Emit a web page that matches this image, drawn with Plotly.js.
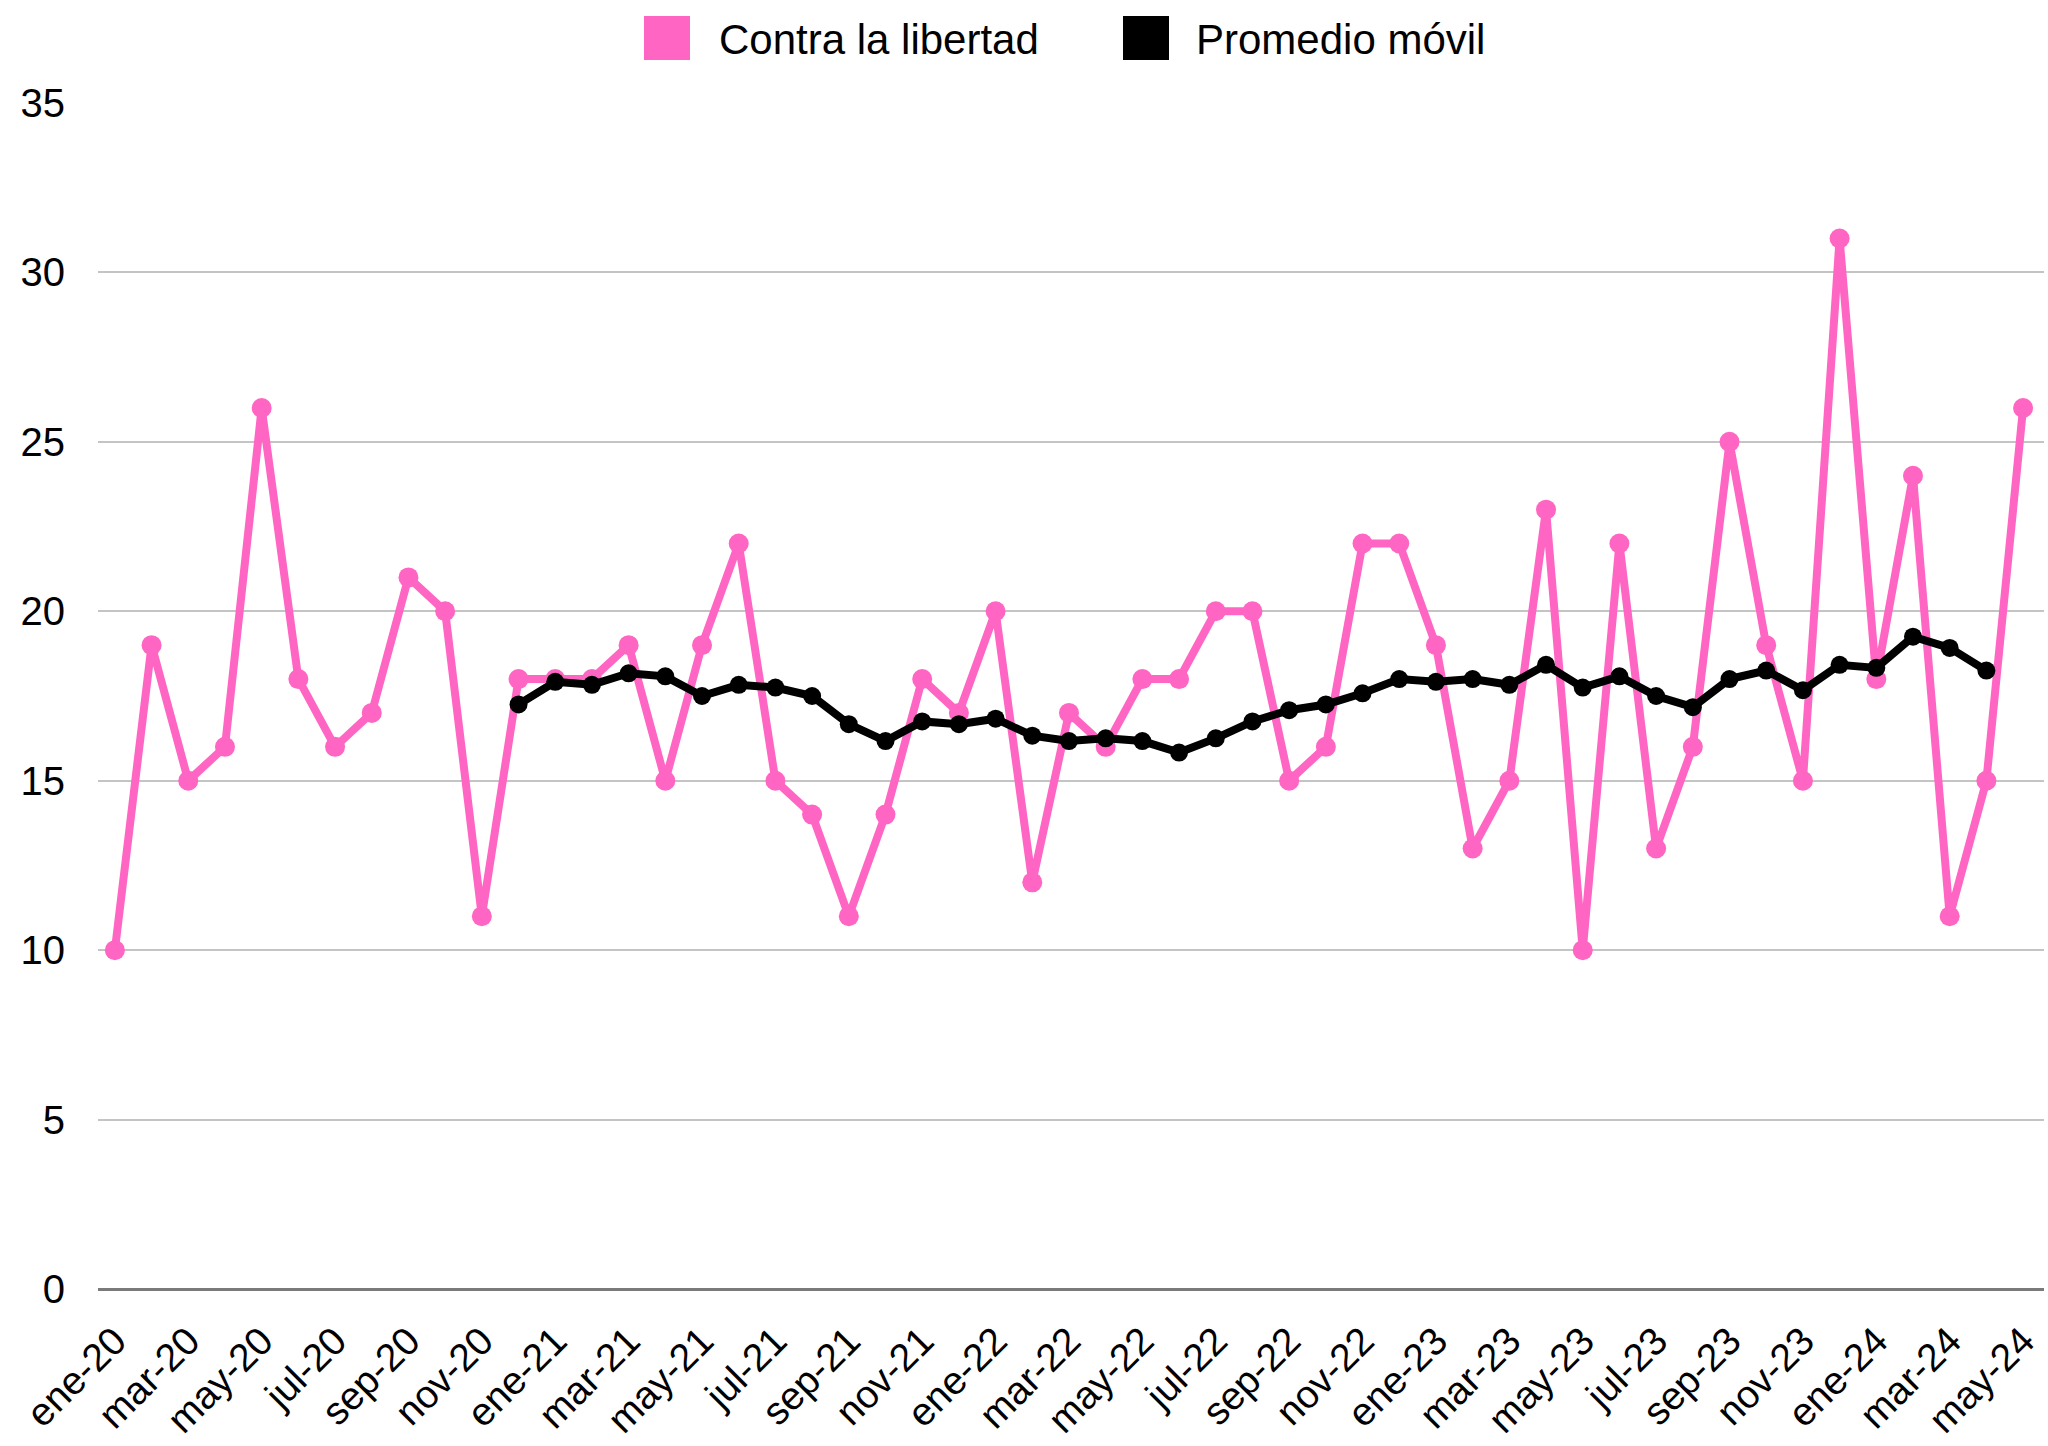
<!DOCTYPE html>
<html>
<head>
<meta charset="utf-8">
<script src="https://cdn.plot.ly/plotly-3.0.1.min.js"></script>
<style>html,body{margin:0;padding:0;background:#fff;}#chart{width:2048px;height:1446px;}</style>
</head>
<body>
<div id="chart"></div>
<script>
const categories = [
  "ene-20","feb-20","mar-20","abr-20","may-20","jun-20","jul-20","ago-20","sep-20","oct-20","nov-20","dic-20",
  "ene-21","feb-21","mar-21","abr-21","may-21","jun-21","jul-21","ago-21","sep-21","oct-21","nov-21","dic-21",
  "ene-22","feb-22","mar-22","abr-22","may-22","jun-22","jul-22","ago-22","sep-22","oct-22","nov-22","dic-22",
  "ene-23","feb-23","mar-23","abr-23","may-23","jun-23","jul-23","ago-23","sep-23","oct-23","nov-23","dic-23",
  "ene-24","feb-24","mar-24","abr-24","may-24"
];
const contraLaLibertad = [
  10,19,15,16,26,18,16,17,21,20,11,18,
  18,18,19,15,19,22,15,14,11,14,18,17,
  20,12,17,16,18,18,20,20,15,16,22,22,
  19,13,15,23,10,22,13,16,25,19,15,31,
  18,24,11,15,26
];
const promedioMovil = [
  null,null,null,null,null,null,null,null,null,null,null,17.25,
  17.92,17.83,18.17,18.08,17.5,17.83,17.75,17.5,16.67,16.17,16.75,16.67,
  16.83,16.33,16.17,16.25,16.17,15.83,16.25,16.75,17.08,17.25,17.58,18.0,
  17.92,18.0,17.83,18.42,17.75,18.08,17.5,17.17,18.0,18.25,17.67,18.42,
  18.33,19.25,18.92,18.25,null
];
const xTickLabels = ["ene-20","mar-20","may-20","jul-20","sep-20","nov-20",
  "ene-21","mar-21","may-21","jul-21","sep-21","nov-21",
  "ene-22","mar-22","may-22","jul-22","sep-22","nov-22",
  "ene-23","mar-23","may-23","jul-23","sep-23","nov-23",
  "ene-24","mar-24","may-24"];
const yTickValues = [0,5,10,15,20,25,30,35];
const seriesNames = ["Contra la libertad","Promedio móvil"];
const seriesColors = ["#FF66C4","#000000"];

const FONT = "Liberation Sans, Arial, sans-serif";

const traces = [
  {
    type: "scatter", mode: "lines+markers", name: seriesNames[0],
    x: categories, y: contraLaLibertad,
    line: {color: seriesColors[0], width: 8},
    marker: {color: seriesColors[0], size: 20},
    showlegend: false, hoverinfo: "x+y"
  },
  {
    type: "scatter", mode: "lines+markers", name: seriesNames[1],
    x: categories, y: promedioMovil,
    line: {color: seriesColors[1], width: 8},
    marker: {color: seriesColors[1], size: 18},
    connectgaps: false,
    showlegend: false, hoverinfo: "x+y"
  }
];

// Legend drawn as shapes + annotations (large square swatches)
const legendSquares = [546, 1025];   // pixel offset from plot left
const legendTexts = [619, 1096];
const shapes = [];
const annotations = [];
for (let i = 0; i < seriesNames.length; i++) {
  shapes.push({
    type: "rect", xref: "paper", yref: "paper",
    xsizemode: "pixel", ysizemode: "pixel",
    xanchor: 0, yanchor: 1,
    x0: legendSquares[i], x1: legendSquares[i] + 46,
    y0: 43, y1: 87,
    fillcolor: seriesColors[i], line: {width: 0}
  });
  annotations.push({
    xref: "paper", yref: "paper", x: 0, y: 1,
    xshift: legendTexts[i], yshift: 64,
    xanchor: "left", yanchor: "middle",
    text: seriesNames[i], showarrow: false,
    font: {family: FONT, size: 42, color: "#000"}
  });
}

const layout = {
  width: 2048, height: 1446,
  margin: {l: 98, r: 4, t: 103, b: 157},
  paper_bgcolor: "#fff", plot_bgcolor: "#fff",
  showlegend: false,
  font: {family: FONT, size: 40, color: "#000"},
  xaxis: {
    type: "category",
    range: [-0.46, 52.57],
    tickmode: "array", tickvals: xTickLabels, ticktext: xTickLabels,
    tickangle: -45,
    showgrid: false, zeroline: false, showline: false,
    ticks: "",
    ticklabelstandoff: 20,
    tickfont: {family: FONT, size: 39, color: "#000"}
  },
  yaxis: {
    range: [0, 35],
    tickmode: "array", tickvals: yTickValues,
    showgrid: true, gridcolor: "#C4C4C4", gridwidth: 2,
    zeroline: true, zerolinecolor: "#7A7A7A", zerolinewidth: 3,
    showline: false, ticks: "",
    ticklabelstandoff: 32,
    tickfont: {family: FONT, size: 40, color: "#000"}
  },
  shapes: shapes,
  annotations: annotations
};

Plotly.newPlot("chart", traces, layout, {displayModeBar: false, staticPlot: true});
</script>
</body>
</html>
